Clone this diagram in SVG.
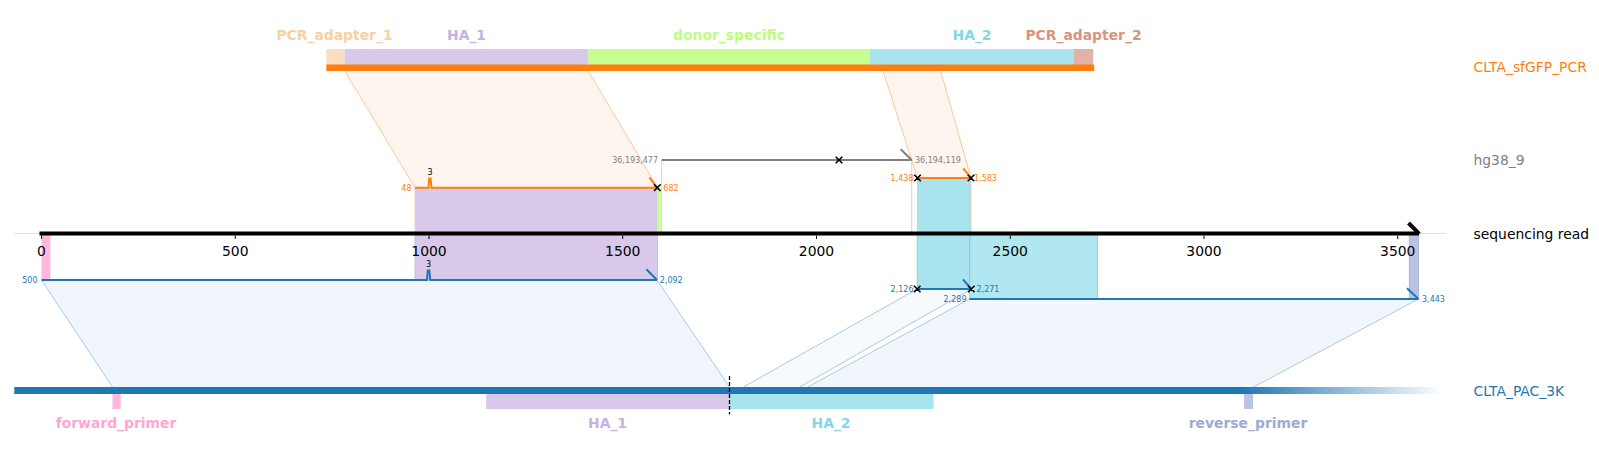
<svg xmlns="http://www.w3.org/2000/svg" width="1599" height="459" viewBox="0 0 1599 459">
<style>
text{font-family:"DejaVu Sans","Liberation Sans",sans-serif}
.lab{font-size:13.9px}
.flab{font-size:13.9px;font-weight:bold;text-anchor:middle}
.tick{font-size:13.9px;text-anchor:middle;fill:#000}
.sm{font-size:8px}
.org{fill:#ff7f0e}.blu{fill:#1f77b4}.gry{fill:#7f7f7f}
.utrap{fill:#fef5ee;stroke:none}
.uedge{stroke:#ffc896;stroke-width:1;fill:none}
.ltrap{fill:#f0f6fb;stroke:none}
.ledge{stroke:#a8cbe4;stroke-width:1;fill:none}
.xm{stroke:#000;stroke-width:1.6;fill:none}
.dirO{stroke:#ff7f0e;stroke-width:2;fill:none}
.dirB{stroke:#1f77b4;stroke-width:2;fill:none}
.dirG{stroke:#7f7f7f;stroke-width:2;fill:none}
</style>
<defs>
<linearGradient id="fade" gradientUnits="userSpaceOnUse" x1="1242" y1="0" x2="1444" y2="0">
<stop offset="0" stop-color="#1f77b4"/>
<stop offset="1" stop-color="#1f77b4" stop-opacity="0"/>
</linearGradient>
</defs>
<rect width="1599" height="459" fill="#fff"/>

<g id="connectors">
<!-- upper trapezoids -->
<polygon class="utrap" points="344.7,71 588.4,71 657.5,187.7 415,187.7"/>
<path class="uedge" d="M344.7,71 L415,187.7 M588.4,71 L657.5,187.7"/>
<polygon class="utrap" points="883,71 940.7,71 971,178 917.5,178"/>
<path class="uedge" d="M883,71 L917.5,178 M940.7,71 L971,178"/>
<!-- lower trapezoids -->
<polygon class="ltrap" points="41.5,280 657,280 729.5,387 112.5,387"/>
<path class="ledge" d="M41.5,280 L112.5,387 M657,280 L729.5,387"/>
<polygon class="ltrap" points="969.5,299 1418.5,299 1253.6,387 807.6,387"/>
<path class="ledge" d="M969.5,299 L807.6,387 M1418.5,299 L1253.6,387"/>
<polygon class="ltrap" points="917.2,289 971.3,289 800,387 743.4,387" fill-opacity="0.6"/>
<path class="ledge" d="M917.2,289 L743.4,387 M971.3,289 L800,387"/>
</g>

<g id="read-features">
<!-- feature fills on read -->
<rect x="415" y="187.7" width="242.5" height="45.8" fill="#d8c8ea" stroke="#ffc896" stroke-width="0.8"/>
<rect x="657.5" y="187.7" width="3.2" height="45.8" fill="#c6ff8f"/>
<rect x="917.5" y="178" width="53.5" height="55.5" fill="#a8e4ee" stroke="#e8c8a0" stroke-width="0.8"/>
<rect x="415" y="233.5" width="242.5" height="46.5" fill="#d8c8ea" stroke="#a8c0e4" stroke-width="0.8"/>
<rect x="41.5" y="233.5" width="8.9" height="46.5" fill="#ffb8db"/>
<rect x="917.2" y="233.5" width="54.1" height="55.5" fill="#a8e4ee" stroke="#7fc8e0" stroke-width="0.8"/>
<rect x="969.5" y="233.5" width="128" height="65.5" fill="#a8e4ee" fill-opacity="0.9" stroke="#7fc8e0" stroke-width="0.8"/>
<rect x="1409.3" y="233.5" width="9.2" height="65.5" fill="#b8c4e0" stroke="#9fb0d8" stroke-width="0.8"/>
<path d="M661.7,160 V233 M911.7,160 V233" stroke="#d4d4d4" stroke-width="1" fill="none"/>
</g>

<g id="track-CLTA_sfGFP_PCR">
<rect x="326.3" y="49" width="18.4" height="16" fill="#f9dfc0"/>
<rect x="344.7" y="49" width="243.7" height="16" fill="#d8c8ea"/>
<rect x="588.4" y="49" width="281.5" height="16" fill="#c6ff8f"/>
<rect x="869.9" y="49" width="204" height="16" fill="#a8e4ee"/>
<rect x="1073.9" y="49" width="19.3" height="16" fill="#e0b3a6"/>
<rect x="326.3" y="64.5" width="767.9" height="6.5" fill="#ff7f0e"/>
<text class="flab" x="334.5" y="40" fill="#f9d0a0">PCR_adapter_1</text>
<text class="flab" x="466.5" y="40" fill="#c6b1e4">HA_1</text>
<text class="flab" x="729" y="40" fill="#b9ff7c">donor_specific</text>
<text class="flab" x="972" y="40" fill="#80d8ea">HA_2</text>
<text class="flab" x="1083.5" y="40" fill="#d9937f">PCR_adapter_2</text>
<text class="lab org" x="1473.5" y="72">CLTA_sfGFP_PCR</text>
</g>

<g id="aln-sfGFP">
<path d="M415,187.7 H428.4 L429.2,178.5 H430.6 L431.4,187.7 H657.3" stroke="#ff7f0e" stroke-width="2" fill="none"/>
<path class="dirO" d="M649.3,177.3 L657.3,187.7"/>
<path class="xm" d="M654,184.4 L660.6,191 M660.6,184.4 L654,191"/>
<text class="sm org" x="411.5" y="190.5" text-anchor="end">48</text>
<text class="sm org" x="663.3" y="190.5">682</text>
<text class="sm" x="430" y="175" text-anchor="middle" fill="#000">3</text>
<path d="M917.5,178 H971" stroke="#ff7f0e" stroke-width="2" fill="none"/>
<path class="dirO" d="M963.3,168.3 L971,178"/>
<path class="xm" d="M914.2,174.7 L920.8,181.3 M920.8,174.7 L914.2,181.3 M967.7,174.7 L974.3,181.3 M974.3,174.7 L967.7,181.3"/>
<text class="sm org" x="913.5" y="180.8" text-anchor="end">1,438</text>
<text class="sm org" x="974" y="180.8">1,583</text>
</g>

<g id="track-hg38_9">
<path d="M661.7,160 H911.7" stroke="#7f7f7f" stroke-width="2" fill="none"/>
<path class="dirG" d="M900.7,149.3 L911.7,160"/>
<path class="xm" d="M835.7,156.7 L842.3,163.3 M842.3,156.7 L835.7,163.3"/>
<text class="sm gry" x="658" y="162.8" text-anchor="end">36,193,477</text>
<text class="sm gry" x="915" y="162.8">36,194,119</text>
<text class="lab gry" x="1473.5" y="164.5">hg38_9</text>
</g>

<g id="track-sequencing-read">
<path d="M14,233.5 H1446" stroke="#e2e2e2" stroke-width="1" fill="none"/>
<path d="M39.5,233.5 H1419" stroke="#000" stroke-width="4" fill="none"/>
<path d="M1408.5,223 L1419.3,233.8" stroke="#000" stroke-width="4" fill="none"/>
<path d="M41.5,235.5 V239 M235.25,235.5 V239 M429,235.5 V239 M622.75,235.5 V239 M816.5,235.5 V239 M1010.25,235.5 V239 M1204,235.5 V239 M1397.75,235.5 V239" stroke="#000" stroke-width="1" fill="none"/>
<text class="tick" x="41.5" y="256">0</text>
<text class="tick" x="235.25" y="256">500</text>
<text class="tick" x="429" y="256">1000</text>
<text class="tick" x="622.75" y="256">1500</text>
<text class="tick" x="816.5" y="256">2000</text>
<text class="tick" x="1010.25" y="256">2500</text>
<text class="tick" x="1204" y="256">3000</text>
<text class="tick" x="1397.75" y="256">3500</text>
<text class="lab" x="1473.5" y="238.5" fill="#000">sequencing read</text>
</g>

<g id="aln-PAC">
<path d="M41.5,280 H427 L427.8,270.5 H429.4 L430.2,280 H657" stroke="#1f77b4" stroke-width="2" fill="none"/>
<path class="dirB" d="M646.4,269.3 L657,280"/>
<text class="sm blu" x="37.5" y="282.8" text-anchor="end">500</text>
<text class="sm blu" x="659.8" y="282.8">2,092</text>
<text class="sm" x="428.6" y="267" text-anchor="middle" fill="#000">3</text>
<path d="M917.2,289 H971.3" stroke="#1f77b4" stroke-width="2" fill="none"/>
<path class="dirB" d="M963,279.3 L971.3,289"/>
<path class="xm" d="M913.9,285.7 L920.5,292.3 M920.5,285.7 L913.9,292.3 M968,285.7 L974.6,292.3 M974.6,285.7 L968,292.3"/>
<text class="sm blu" x="913.5" y="291.8" text-anchor="end">2,126</text>
<text class="sm blu" x="976.5" y="291.8">2,271</text>
<path d="M969.5,299 H1418.5" stroke="#1f77b4" stroke-width="2" fill="none"/>
<path class="dirB" d="M1407,288.3 L1418.5,299"/>
<text class="sm blu" x="966.5" y="301.8" text-anchor="end">2,289</text>
<text class="sm blu" x="1422" y="301.8">3,443</text>
</g>

<g id="track-CLTA_PAC_3K">
<rect x="14.3" y="387" width="1228" height="7" fill="#1f77b4"/>
<rect x="1242" y="387" width="202" height="7" fill="url(#fade)"/>
<rect x="112.5" y="394" width="8.2" height="15" fill="#ffb8db"/>
<rect x="486.2" y="394" width="243.3" height="15" fill="#d8c8ea"/>
<rect x="729.5" y="394" width="204.1" height="15" fill="#a8e4ee"/>
<rect x="1244.1" y="394" width="9" height="15" fill="#b8c4e0"/>
<path d="M729.5,376 V414.5" stroke="#000" stroke-width="1.3" stroke-dasharray="4,2" fill="none"/>
<text class="flab" x="116" y="428" fill="#ffa6d2">forward_primer</text>
<text class="flab" x="607.5" y="428" fill="#c6b1e4">HA_1</text>
<text class="flab" x="831" y="428" fill="#80d8ea">HA_2</text>
<text class="flab" x="1248" y="428" fill="#9caad4">reverse_primer</text>
<text class="lab blu" x="1473.5" y="395.5">CLTA_PAC_3K</text>
</g>
</svg>
